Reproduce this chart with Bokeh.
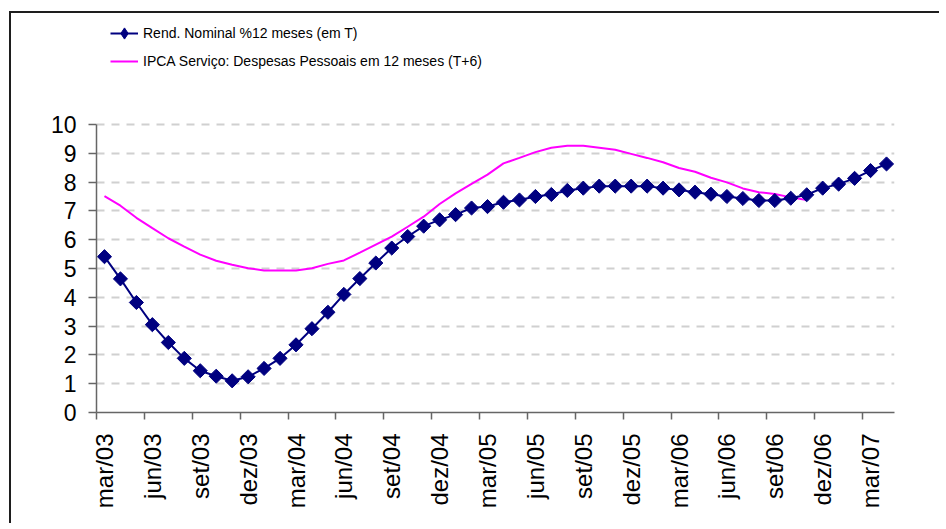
from math import pi
from bokeh.plotting import figure
from bokeh.models import (FixedTicker, LinearAxis, Legend, LegendItem, Range1d,
                          ColumnDataSource)
from bokeh.embed import file_html
from bokeh.resources import INLINE

# Tick labels (every third month, mar/03 .. mar/07); series run monthly from mar/03
tick_labels = ["mar/03", "jun/03", "set/03", "dez/03", "mar/04", "jun/04", "set/04", "dez/04",
               "mar/05", "jun/05", "set/05", "dez/05", "mar/06", "jun/06", "set/06", "dez/06",
               "mar/07"]

# Rend. Nominal %12 meses (em T): mar/03 .. abr/07
rend_nominal = [5.41, 4.64, 3.82, 3.05, 2.43, 1.88, 1.45, 1.26, 1.10, 1.24,
                1.53, 1.88, 2.35, 2.91, 3.48, 4.10, 4.65, 5.19, 5.71, 6.11,
                6.47, 6.69, 6.87, 7.10, 7.15, 7.30, 7.38, 7.50, 7.57, 7.71,
                7.79, 7.86, 7.86, 7.86, 7.86, 7.79, 7.73, 7.65, 7.58, 7.50,
                7.43, 7.36, 7.36, 7.44, 7.56, 7.79, 7.93, 8.13, 8.40, 8.63]

# IPCA Serviço: Despesas Pessoais em 12 meses (T+6): mar/03 .. nov/06
ipca_servico = [7.51, 7.18, 6.76, 6.40, 6.05, 5.76, 5.48, 5.27, 5.13, 5.01,
                4.93, 4.93, 4.93, 5.01, 5.16, 5.28, 5.55, 5.83, 6.11, 6.45,
                6.80, 7.24, 7.61, 7.94, 8.26, 8.65, 8.84, 9.04, 9.19, 9.26,
                9.26, 9.19, 9.12, 8.98, 8.84, 8.69, 8.49, 8.36, 8.15, 7.99,
                7.78, 7.65, 7.59, 7.47, 7.38]

y_ticks = list(range(0, 11))

n = len(rend_nominal)
x_rend = [i + 0.5 for i in range(n)]
x_ipca = [i + 0.5 for i in range(len(ipca_servico))]

FONT = "Liberation Sans"
AXIS_COLOR = "#666666"
NAVY = "#000080"

# frame: 392 px tall, 0..10 occupies the lower 288 px; the top part hosts the legend
Y_TOP = 10 + 104 / 28.8

p = figure(width=930, height=512, output_backend="svg", toolbar_location=None,
           x_range=Range1d(0, n), y_range=Range1d(0, Y_TOP),
           min_border_left=85, min_border_right=47, min_border_top=7, min_border_bottom=113)
p.outline_line_color = None
p.background_fill_color = "white"
p.border_fill_color = "white"
p.styles = {"margin-left": "9px", "margin-top": "11px",
            "border-left": "2px solid #1e1e1e", "border-top": "2px solid #1e1e1e"}
# an off-screen range, used only so that the legend can show a diamond swatch
p.extra_y_ranges = {"legend_only": Range1d(-100, -90)}

# grid
p.xgrid.visible = False
p.ygrid.ticker = FixedTicker(ticks=y_ticks[1:])
p.ygrid.grid_line_color = "#d0d0d0"
p.ygrid.grid_line_width = 2
p.ygrid.grid_line_dash = "8 7"

# y axis
p.yaxis.ticker = FixedTicker(ticks=y_ticks)
p.yaxis.bounds = (0, 10)
p.yaxis.major_tick_out = 8
p.yaxis.major_tick_in = 0
p.yaxis.minor_tick_line_color = None
p.yaxis.axis_line_color = AXIS_COLOR
p.yaxis.axis_line_width = 1.5
p.yaxis.major_tick_line_color = AXIS_COLOR
p.yaxis.major_tick_line_width = 1.5
p.yaxis.major_label_text_font = FONT
p.yaxis.major_label_text_font_size = "23px"
p.yaxis.major_label_text_color = "black"
p.yaxis.major_label_standoff = 12

# x axis: tick marks on category boundaries
boundary_ticks = [3 * k for k in range(len(tick_labels))]
p.xaxis.ticker = FixedTicker(ticks=boundary_ticks)
p.xaxis.major_label_overrides = {t: "" for t in boundary_ticks}
p.xaxis.major_label_text_font_size = "0px"
p.xaxis.major_label_standoff = 0
p.xaxis.major_tick_out = 7
p.xaxis.major_tick_in = 0
p.xaxis.minor_tick_line_color = None
p.xaxis.axis_line_color = AXIS_COLOR
p.xaxis.axis_line_width = 1.5
p.xaxis.major_tick_line_color = AXIS_COLOR
p.xaxis.major_tick_line_width = 1.5

# x axis: labels centred on categories
center_ticks = [3 * k + 0.5 for k in range(len(tick_labels))]
ax2 = LinearAxis(ticker=FixedTicker(ticks=center_ticks),
                 major_label_overrides={t: lab for t, lab in zip(center_ticks, tick_labels)},
                 major_tick_out=0, major_tick_in=0, minor_tick_out=0, minor_tick_in=0,
                 axis_line_color=None, major_tick_line_color=None, minor_tick_line_color=None,
                 major_label_orientation=pi / 2, major_label_standoff=14,
                 major_label_text_font=FONT, major_label_text_font_size="24px",
                 major_label_text_color="black")
p.add_layout(ax2, "below")

# series
src_rend = ColumnDataSource(dict(x=x_rend, y=rend_nominal))
mag = p.line(x_ipca, ipca_servico, line_color="#ff00ff", line_width=2)
bl = p.line("x", "y", source=src_rend, line_color=NAVY, line_width=2)
bp = p.scatter("x", "y", source=src_rend, marker="square", size=10, angle=pi / 4,
               fill_color=NAVY, line_color=NAVY)
# legend swatch: same data on the off-screen range (the legend ignores marker angle)
bp_leg = p.scatter("x", "y", source=src_rend, y_range_name="legend_only",
                   marker="diamond", size=10, fill_color=NAVY, line_color=NAVY)

legend = Legend(items=[LegendItem(label="Rend. Nominal %12 meses (em T)", renderers=[bl, bp_leg]),
                       LegendItem(label="IPCA Serviço: Despesas Pessoais em 12 meses (T+6)", renderers=[mag])],
                location=(14, 337), orientation="vertical",
                border_line_color=None, background_fill_alpha=0,
                padding=0, margin=0, spacing=-5, glyph_width=28, glyph_height=28,
                label_height=20, label_standoff=5,
                label_text_font=FONT, label_text_font_size="14px", label_text_color="black")
p.add_layout(legend, "center")

open("out.html", "w").write(file_html(p, INLINE))
